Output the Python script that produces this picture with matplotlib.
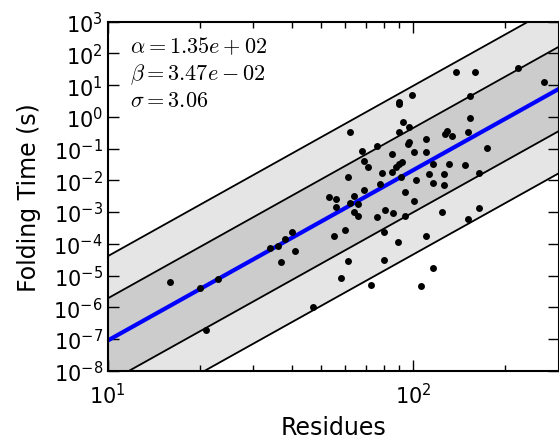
import matplotlib
matplotlib.use("Agg")
import matplotlib.pyplot as plt
import numpy as np

plt.rcParams['mathtext.fontset'] = 'cm'
plt.rcParams['axes.unicode_minus'] = False

# residues and folding time (log10 seconds)
residues = [16, 20, 23, 21, 34, 36, 38, 40, 41, 37,
            47, 55, 60, 61, 58, 73, 80, 80, 89, 110,
            116, 106, 53, 56, 64, 69, 56, 62, 66, 64,
            66, 76, 81, 86, 94, 94, 101, 61, 79, 85,
            78, 91, 102, 71, 69, 90, 88, 92, 85, 101,
            110, 68, 76, 97, 96, 110, 62, 90, 93, 97,
            90, 90, 99, 138, 159, 220, 268, 154, 154, 129,
            127, 134, 151, 174, 116, 131, 148, 113, 126, 164,
            116, 126, 124, 164, 151]
log_time = [-5.20, -5.39, -5.11, -6.72, -4.13, -4.07, -3.85, -3.63, -4.23, -4.57,
            -5.99, -3.75, -3.56, -4.54, -5.08, -5.30, -3.63, -4.51, -3.94, -3.75,
            -4.76, -5.33, -2.52, -2.59, -2.49, -2.30, -2.84, -2.71, -2.75, -3.00,
            -3.12, -3.16, -2.93, -3.03, -3.12, -2.37, -2.65, -1.89, -1.77, -1.74,
            -2.12, -1.89, -1.99, -1.58, -1.39, -1.48, -1.58, -1.42, -1.17, -1.11,
            -1.11, -1.08, -0.92, -0.79, -0.85, -0.70, -0.48, -0.48, -0.16, -0.32,
            0.47, 0.41, 0.69, 1.41, 1.41, 1.54, 1.10, 0.66, -0.03, -0.44,
            -0.54, -0.60, -0.48, -0.98, -1.48, -1.48, -1.52, -1.80, -1.80, -1.77,
            -2.08, -2.15, -3.00, -2.87, -3.22]

# fit shown in the chart
alpha = 1.35e+02
beta = 3.47e-02
sigma = 3.06
fit_slope = 5.37      # log-log slope of the fitted line
fit_log_at10 = -7.05  # log10 time of the fit at 10 residues

xmin, xmax = 10, 300

fig = plt.figure(figsize=(5.59, 4.39), dpi=100)
ax = fig.add_axes([0.1927, 0.1533, 0.807, 0.795])

xs = np.logspace(np.log10(xmin), np.log10(xmax), 100)
fit = fit_log_at10 + fit_slope * (np.log10(xs) - 1)
band = sigma / np.log(10)

ax.fill_between(xs, 10**(fit - 2*band), 10**(fit + 2*band), color='#e5e5e5', lw=0)
ax.fill_between(xs, 10**(fit - band), 10**(fit + band), color='#cccccc', lw=0)
for k in [-2, -1, 1, 2]:
    ax.plot(xs, 10**(fit + k*band), color='black', lw=1.3)
ax.plot(xs, 10**fit, color='#0000ff', lw=3)
ax.plot(residues, 10**np.array(log_time), 'o', color='black', ms=5, mew=0)

ax.set_xscale('log')
ax.set_yscale('log')
ax.set_xlim(xmin, xmax)
ax.set_ylim(1e-8, 1e3)
ax.set_yticks([10.0**k for k in range(-8, 4)])

ax.tick_params(which='both', direction='in', top=True, right=True, labelsize=15)
ax.tick_params(which='major', length=8, width=1)
ax.tick_params(which='minor', length=4, width=1)
ax.tick_params(axis='x', pad=8)
for s in ax.spines.values():
    s.set_linewidth(1.5)

ax.set_xlabel('Residues', fontsize=17, labelpad=6)
ax.set_ylabel('Folding Time (s)', fontsize=17, labelpad=9)

ax.text(0.05, 0.912, r'$\alpha = %.2e$' % alpha, transform=ax.transAxes, fontsize=16)
ax.text(0.05, 0.835, r'$\beta = %.2e$' % beta, transform=ax.transAxes, fontsize=16)
ax.text(0.05, 0.758, r'$\sigma = %.2f$' % sigma, transform=ax.transAxes, fontsize=16)

fig.savefig('out.png', dpi=100)
